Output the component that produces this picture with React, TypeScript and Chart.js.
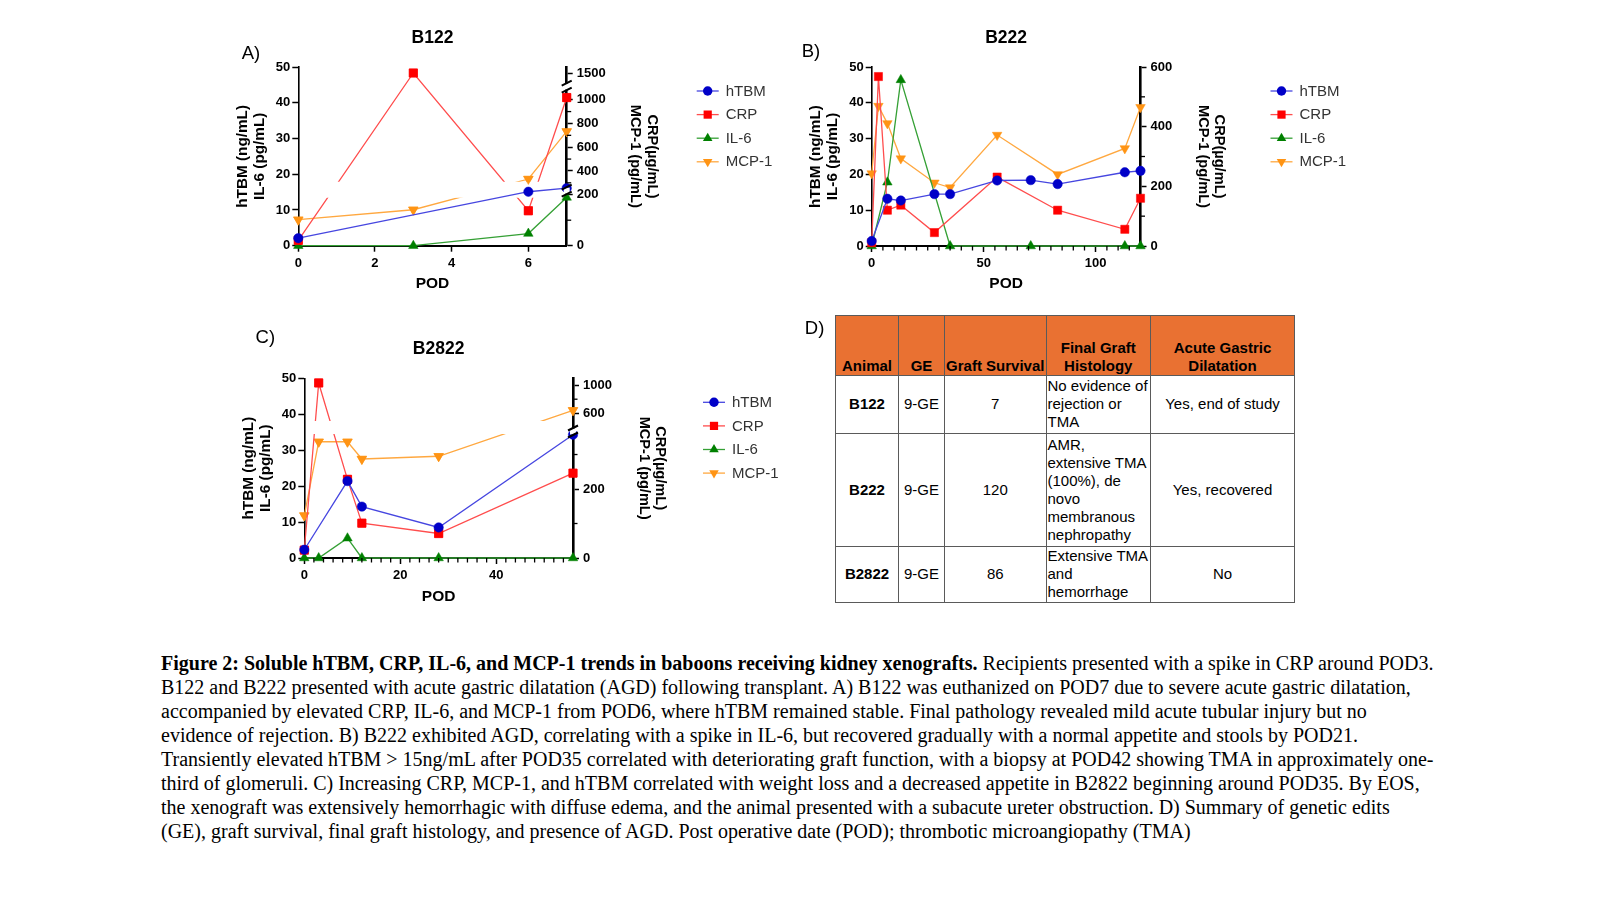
import React, { useEffect, useRef } from 'react';
import { Chart, registerables, LinearScale } from 'chart.js';

Chart.register(...registerables);

// ---------------- data ----------------
const SERIES = ['hTBM', 'CRP', 'IL-6', 'MCP-1'];

// B122
const A_HTBM_POD = [0, 6, 7];
const A_HTBM = [2.1, 15.1, 16.1];
const A_CRP_POD = [0, 3, 6, 7];
const A_CRP = [21, 1500, 137, 1040];
const A_IL6_POD = [0, 3, 6, 7];
const A_IL6 = [0, 0, 3.4, 13.5];
const A_MCP1_POD = [0, 3, 6, 7];
const A_MCP1 = [102, 141, 332, 733];

// B222
const B_HTBM_POD = [0, 7, 13, 28, 35, 56, 71, 83, 113, 120];
const B_HTBM = [1.4, 13.2, 12.7, 14.5, 14.5, 18.3, 18.4, 17.3, 20.6, 21.0];
const B_CRP_POD = [0, 3, 7, 13, 28, 56, 83, 113, 120];
const B_CRP = [11, 568, 120, 137, 45, 231, 120, 56, 160];
const B_IL6_POD = [0, 7, 13, 35, 71, 113, 120];
const B_IL6 = [0, 17.8, 46.4, 0, 0, 0, 0];
const B_MCP1_POD = [0, 3, 7, 13, 28, 35, 56, 83, 113, 120];
const B_MCP1 = [243, 469, 411, 293, 212, 196, 372, 240, 327, 465];

// B2822
const C_HTBM_POD = [0, 9, 12, 28, 56];
const C_HTBM = [2.3, 21.4, 14.3, 8.5, 34.3];
const C_CRP_POD = [0, 3, 9, 12, 28, 56];
const C_CRP = [23, 1029, 228, 101, 71, 246];
const C_IL6_POD = [0, 3, 9, 12, 28, 56];
const C_IL6 = [0, 0, 5.5, 0, 0, 0];
const C_MCP1_POD = [0, 3, 9, 12, 28, 56];
const C_MCP1 = [123, 337, 337, 287, 295, 643];

// axis ticks
const LEFT_MAX = 50;
const LEFT_STEP = 10;
const A_X_TICKS = [0, 2, 4, 6];
const A_X_MAJOR = [0, 2, 4, 6];
const A_X_MAX = 7;
const B_X_TICKS = [0, 5, 10, 15, 20, 25, 30, 35, 40, 45, 50, 55, 60, 65, 70, 75, 80, 85, 90, 95, 100, 105, 110, 115];
const B_X_MAJOR = [0, 50, 100];
const B_X_MAX = 120;
const C_X_TICKS = [0, 2, 4, 6, 8, 10, 12, 14, 16, 18, 20, 22, 24, 26, 28, 30, 32, 34, 36, 38, 40, 42, 44, 46, 48, 50, 52, 54];
const C_X_MAJOR = [0, 20, 40];
const C_X_MAX = 56;

const A_R_TICKS = [0, 100, 200, 300, 400, 500, 600, 700, 800, 900, 1000, 1500];
const A_R_MAJOR = [0, 200, 400, 600, 800, 1000, 1500];
const A_R_SEG_VALUES = [0, 200, 1000, 1500, 1612];
const B_R_TICKS = [0, 100, 200, 300, 400, 500, 600];
const B_R_MAJOR = [0, 200, 400, 600];
const B_R_SEG_VALUES = [0, 600];
const C_R_TICKS = [0, 100, 200, 300, 600, 800, 1000];
const C_R_MAJOR = [0, 200, 600, 1000];
const C_R_SEG_VALUES = [0, 360, 400, 1095];

// table
const TABLE_HEAD = [['Animal'], ['GE'], ['Graft Survival'], ['Final Graft', 'Histology'], ['Acute Gastric', 'Dilatation']];
const TABLE_ANIMAL = ['B122', 'B222', 'B2822'];
const TABLE_GE = ['9-GE', '9-GE', '9-GE'];
const TABLE_SURVIVAL = ['7', '120', '86'];
const TABLE_HISTO = [
  ['No evidence of', 'rejection or', 'TMA'],
  ['AMR,', 'extensive TMA', '(100%), de', 'novo', 'membranous', 'nephropathy'],
  ['Extensive TMA', 'and', 'hemorrhage'],
];
const TABLE_AGD = ['Yes, end of study', 'Yes, recovered', 'No'];

// caption
const CAPTION_BOLD = 'Figure 2: Soluble hTBM, CRP, IL-6, and MCP-1 trends in baboons receiving kidney xenografts.';
const CAPTION_LINES = [
  ' Recipients presented with a spike in CRP around POD3.',
  'B122 and B222 presented with acute gastric dilatation (AGD) following transplant. A) B122 was euthanized on POD7 due to severe acute gastric dilatation,',
  'accompanied by elevated CRP, IL-6, and MCP-1 from POD6, where hTBM remained stable. Final pathology revealed mild acute tubular injury but no',
  'evidence of rejection. B) B222 exhibited AGD, correlating with a spike in IL-6, but recovered gradually with a normal appetite and stools by POD21.',
  'Transiently elevated hTBM > 15ng/mL after POD35 correlated with deteriorating graft function, with a biopsy at POD42 showing TMA in approximately one-',
  'third of glomeruli. C) Increasing CRP, MCP-1, and hTBM correlated with weight loss and a decreased appetite in B2822 beginning around POD35. By EOS,',
  'the xenograft was extensively hemorrhagic with diffuse edema, and the animal presented with a subacute ureter obstruction. D) Summary of genetic edits',
  '(GE), graft survival, final graft histology, and presence of AGD. Post operative date (POD); thrombotic microangiopathy (TMA)',
];

// ---------------- styling ----------------
const SANS = "'Liberation Sans', Arial, Helvetica, sans-serif";
const SERIF = "'Liberation Serif', 'Times New Roman', Times, serif";
Chart.defaults.font.family = SANS;
Chart.defaults.color = '#000';

const LINE_COLORS = ['#4646e0', '#ff4d4d', '#35a035', '#ffa840'];
const MARK_COLORS = ['#0000c8', '#ff0000', '#008000', '#ff9414'];
const POINT_STYLES = ['circle', 'rect', 'triangle', 'triangle'];
const POINT_ROT = [0, 0, 0, 180];
const POINT_R = [4.7, 5.8, 5.5, 5.5];

// ---------------- broken (segmented) axis ----------------
class BrokenScale extends (LinearScale as any) {
  static id = 'broken';
  static defaults = {};
  _toFrac(v: number) {
    const vs: number[] = this.options.segValues;
    const fs: number[] = this.options.segFracs;
    let i = 1;
    while (i < vs.length - 1 && v > vs[i]) i++;
    return fs[i - 1] + ((v - vs[i - 1]) * (fs[i] - fs[i - 1])) / (vs[i] - vs[i - 1]);
  }
  getPixelForValue(v: number) {
    return this.getPixelForDecimal(this._toFrac(v));
  }
  getValueForPixel(px: number) {
    const f = this.getDecimalForPixel(px);
    const vs: number[] = this.options.segValues;
    const fs: number[] = this.options.segFracs;
    let i = 1;
    while (i < fs.length - 1 && f > fs[i]) i++;
    return vs[i - 1] + ((f - fs[i - 1]) * (vs[i] - vs[i - 1])) / (fs[i] - fs[i - 1]);
  }
  buildTicks() {
    this.start = this.min;
    this.end = this.max;
    return (this.options.tickValues as number[]).map((v) => ({ value: v }));
  }
}
Chart.register(BrokenScale as any);

type Series = { pod: number[]; val: number[] };
type PanelCfg = {
  title: string;
  cl: number; ct: number; cw: number; ch: number;
  area: { left: number; top: number; right: number; bottom: number };
  rightEdge: number;
  xMax: number; xTicks: number[]; xMajor: number[];
  rTicks: number[]; rMajor: number[]; segValues: number[]; segFracs: number[];
  gapBands: number[]; breaks: number[];
  series: Series[];
};

function drawMarker(ctx: CanvasRenderingContext2D, i: number, x: number, y: number) {
  const r = POINT_R[i];
  ctx.fillStyle = MARK_COLORS[i];
  ctx.beginPath();
  const st = POINT_STYLES[i];
  if (st === 'circle') {
    ctx.arc(x, y, r, 0, Math.PI * 2);
  } else if (st === 'rect') {
    const s = r * Math.SQRT1_2;
    ctx.rect(x - s, y - s, 2 * s, 2 * s);
  } else {
    let rad = (POINT_ROT[i] * Math.PI) / 180;
    ctx.moveTo(x + Math.sin(rad) * r, y - Math.cos(rad) * r);
    rad += (2 * Math.PI) / 3;
    ctx.lineTo(x + Math.sin(rad) * r, y - Math.cos(rad) * r);
    rad += (2 * Math.PI) / 3;
    ctx.lineTo(x + Math.sin(rad) * r, y - Math.cos(rad) * r);
    ctx.closePath();
  }
  ctx.fill();
}

function decorPlugin(p: PanelCfg) {
  return {
    id: 'decor',
    beforeDatasetDraw(chart: any, args: any) {
      const meta = args.meta;
      if (meta.yAxisID !== 'y1' || !p.gapBands.length) return;
      const s = chart.scales.y1;
      const ctx = chart.ctx;
      ctx.save();
      ctx.beginPath();
      const edges = [0, ...p.gapBands, 1];
      for (let k = 0; k < edges.length; k += 2) {
        const yb = k === 0 ? chart.height : s.getPixelForDecimal(edges[k]);
        const yt = k + 1 === edges.length - 1 ? 0 : s.getPixelForDecimal(edges[k + 1]);
        ctx.rect(0, yt, chart.width, yb - yt);
      }
      ctx.clip();
    },
    afterDatasetDraw(chart: any, args: any) {
      const meta = args.meta;
      if (meta.yAxisID !== 'y1' || !p.gapBands.length) return;
      chart.ctx.restore();
      meta.data.forEach((pt: any) => pt.draw(chart.ctx));
    },
    afterDraw(chart: any) {
      const ctx: CanvasRenderingContext2D = chart.ctx;
      const a = chart.chartArea;
      ctx.save();
      // title
      ctx.fillStyle = '#000';
      ctx.font = `bold 17.5px ${SANS}`;
      ctx.textAlign = 'center';
      ctx.textBaseline = 'middle';
      ctx.fillText(p.title, (a.left + a.right) / 2, a.top - 29);
      // minor ticks
      ctx.strokeStyle = '#000';
      ctx.lineWidth = 1.3;
      const xs = chart.scales.x;
      xs.ticks.forEach((t: any) => {
        if (t.label !== '') return;
        const px = xs.getPixelForValue(t.value);
        ctx.beginPath();
        ctx.moveTo(px, xs.top);
        ctx.lineTo(px, xs.top + 4.5);
        ctx.stroke();
      });
      const rs = chart.scales.y1;
      rs.ticks.forEach((t: any) => {
        if (t.label !== '') return;
        const py = rs.getPixelForValue(t.value);
        ctx.beginPath();
        ctx.moveTo(rs.left, py);
        ctx.lineTo(rs.left + 4.5, py);
        ctx.stroke();
      });
      // axis breaks
      p.breaks.forEach((f) => {
        const y = rs.getPixelForDecimal(f);
        const x = rs.left;
        ctx.fillStyle = '#fff';
        ctx.fillRect(x - 3, y - 3, 6, 6);
        ctx.strokeStyle = '#000';
        ctx.lineWidth = 2;
        ctx.beginPath();
        ctx.moveTo(x - 5, y + 6);
        ctx.lineTo(x + 5, y + 1);
        ctx.moveTo(x - 5, y - 1);
        ctx.lineTo(x + 5, y - 6);
        ctx.stroke();
      });
      // legend
      ctx.font = `15px ${SANS}`;
      ctx.textAlign = 'left';
      ctx.textBaseline = 'middle';
      SERIES.forEach((name, i) => {
        const cx = a.right + 141;
        const cy = a.top + 24 + i * 23.6;
        ctx.strokeStyle = LINE_COLORS[i];
        ctx.lineWidth = 1.3;
        ctx.beginPath();
        ctx.moveTo(cx - 11, cy);
        ctx.lineTo(cx + 11, cy);
        ctx.stroke();
        drawMarker(ctx, i, cx, cy);
        ctx.fillStyle = '#333';
        ctx.fillText(name, cx + 18, cy + 0.5);
      });
      ctx.restore();
    },
  };
}

function buildConfig(p: PanelCfg): any {
  const leftW = p.area.left - p.cl;
  const rightW = p.rightEdge - p.area.right;
  const xH = p.ct + p.ch - p.area.bottom;
  const padTop = p.area.top - p.ct;
  const padRight = p.cl + p.cw - p.rightEdge;
  const tickColor = (c: any) => (c.tick && c.tick.label === '' ? 'rgba(0,0,0,0)' : '#000');
  const tickFont = { size: 13, weight: 'bold' as const };
  const datasets = p.series.map((s, i) => ({
    label: SERIES[i],
    data: s.pod.map((x, j) => ({ x, y: s.val[j] })),
    yAxisID: i === 0 || i === 2 ? 'y' : 'y1',
    borderColor: LINE_COLORS[i],
    borderWidth: 1.3,
    backgroundColor: MARK_COLORS[i],
    pointBackgroundColor: MARK_COLORS[i],
    pointBorderColor: MARK_COLORS[i],
    pointBorderWidth: 0.5,
    pointStyle: POINT_STYLES[i],
    pointRotation: POINT_ROT[i],
    pointRadius: POINT_R[i],
    pointHoverRadius: POINT_R[i],
    tension: 0,
    fill: false,
    clip: false,
  }));
  return {
    type: 'line',
    data: { datasets },
    options: {
      animation: false,
      responsive: false,
      maintainAspectRatio: false,
      events: [],
      layout: { padding: { left: 0, top: padTop, right: padRight, bottom: 0 } },
      plugins: { legend: { display: false }, title: { display: false }, tooltip: { enabled: false } },
      scales: {
        x: {
          type: 'linear',
          min: 0,
          max: p.xMax,
          afterBuildTicks: (s: any) => {
            s.ticks = p.xTicks.map((v) => ({ value: v }));
          },
          afterFit: (s: any) => {
            s.height = xH;
          },
          ticks: {
            autoSkip: false,
            maxRotation: 0,
            padding: 4,
            font: tickFont,
            color: '#000',
            callback: (v: number) => (p.xMajor.includes(v) ? String(v) : ''),
          },
          grid: { drawOnChartArea: false, drawTicks: true, tickLength: 6, tickWidth: 1.5, tickColor },
          border: { display: true, color: '#000', width: 2 },
          title: { display: true, text: 'POD', font: { size: 15.5, weight: 'bold', lineHeight: 1.1 }, color: '#000', padding: { top: 0, bottom: 4 } },
        },
        y: {
          type: 'linear',
          position: 'left',
          min: 0,
          max: LEFT_MAX,
          afterFit: (s: any) => {
            s.width = leftW;
          },
          ticks: { stepSize: LEFT_STEP, padding: 2, font: tickFont, color: '#000' },
          grid: { drawOnChartArea: false, drawTicks: true, tickLength: 6, tickWidth: 1.5, tickColor: '#000' },
          border: { display: true, color: '#000', width: 1.6 },
          title: {
            display: true,
            text: ['hTBM (ng/mL)', 'IL-6 (pg/mL)'],
            font: { size: 15.3, weight: 'bold', lineHeight: 1.06 },
            color: '#000',
            padding: 0,
          },
        },
        y1: {
          type: 'broken',
          position: 'right',
          min: 0,
          max: p.segValues[p.segValues.length - 1],
          segValues: p.segValues,
          segFracs: p.segFracs,
          tickValues: p.rTicks,
          afterFit: (s: any) => {
            s.width = rightW;
          },
          ticks: {
            autoSkip: false,
            padding: 4,
            font: tickFont,
            color: '#000',
            callback: (v: number) => (p.rMajor.includes(v) ? String(v) : ''),
          },
          grid: { drawOnChartArea: false, drawTicks: true, tickLength: 6, tickWidth: 1.5, tickColor },
          border: { display: true, color: '#000', width: 2.6 },
          title: {
            display: true,
            text: ['CRP(µg/mL)', 'MCP-1 (pg/mL)'],
            font: { size: 14.6, weight: 'bold', lineHeight: 1.12 },
            color: '#000',
            padding: 0,
          },
        },
      },
    },
    plugins: [decorPlugin(p)],
  };
}

const PANEL_A: PanelCfg = {
  title: 'B122',
  cl: 235, ct: 10, cw: 555, ch: 286,
  area: { left: 298.3, top: 67, right: 566.7, bottom: 245.7 },
  rightEdge: 660,
  xMax: A_X_MAX, xTicks: A_X_TICKS, xMajor: A_X_MAJOR,
  rTicks: A_R_TICKS, rMajor: A_R_MAJOR,
  segValues: A_R_SEG_VALUES, segFracs: [0, 0.2854, 0.817, 0.9664, 1],
  gapBands: [0.269, 0.358], breaks: [0.308, 0.89],
  series: [
    { pod: A_HTBM_POD, val: A_HTBM },
    { pod: A_CRP_POD, val: A_CRP },
    { pod: A_IL6_POD, val: A_IL6 },
    { pod: A_MCP1_POD, val: A_MCP1 },
  ],
};

const PANEL_B: PanelCfg = {
  title: 'B222',
  cl: 808, ct: 10, cw: 562, ch: 286,
  area: { left: 871.7, top: 67, right: 1140.5, bottom: 246 },
  rightEdge: 1227.4,
  xMax: B_X_MAX, xTicks: B_X_TICKS, xMajor: B_X_MAJOR,
  rTicks: B_R_TICKS, rMajor: B_R_MAJOR,
  segValues: B_R_SEG_VALUES, segFracs: [0, 1],
  gapBands: [], breaks: [],
  series: [
    { pod: B_HTBM_POD, val: B_HTBM },
    { pod: B_CRP_POD, val: B_CRP },
    { pod: B_IL6_POD, val: B_IL6 },
    { pod: B_MCP1_POD, val: B_MCP1 },
  ],
};

const PANEL_C: PanelCfg = {
  title: 'B2822',
  cl: 241, ct: 320, cw: 549, ch: 289,
  area: { left: 304.3, top: 378.3, right: 573, bottom: 558 },
  rightEdge: 668.2,
  xMax: C_X_MAX, xTicks: C_X_TICKS, xMajor: C_X_MAJOR,
  rTicks: C_R_TICKS, rMajor: C_R_MAJOR,
  segValues: C_R_SEG_VALUES, segFracs: [0, 0.691, 0.726, 1],
  gapBands: [0.69, 0.762], breaks: [0.704],
  series: [
    { pod: C_HTBM_POD, val: C_HTBM },
    { pod: C_CRP_POD, val: C_CRP },
    { pod: C_IL6_POD, val: C_IL6 },
    { pod: C_MCP1_POD, val: C_MCP1 },
  ],
};

function Panel({ p }: { p: PanelCfg }) {
  const ref = useRef<HTMLCanvasElement>(null);
  useEffect(() => {
    const chart = new Chart(ref.current as HTMLCanvasElement, buildConfig(p));
    return () => chart.destroy();
  }, [p]);
  return (
    <canvas
      ref={ref}
      width={p.cw}
      height={p.ch}
      style={{ position: 'absolute', left: p.cl, top: p.ct, width: p.cw, height: p.ch }}
    />
  );
}

function Label({ text, x, y }: { text: string; x: number; y: number }) {
  return (
    <div
      style={{
        position: 'absolute', left: x, top: y, transform: 'translate(-50%, -50%)',
        fontFamily: SANS, fontSize: 18.5, lineHeight: '20px', color: '#000', whiteSpace: 'nowrap',
      }}
    >
      {text}
    </div>
  );
}

const COL_W = [63, 46, 101.5, 104.5, 144];
const ROW_H = [57.5, 113, 56.5];

function SummaryTable() {
  const border = '1px solid #5a5a5a';
  const cell: React.CSSProperties = { border, padding: '0 1px', fontSize: 15, lineHeight: '18px', verticalAlign: 'middle', textAlign: 'center', overflow: 'hidden' };
  return (
    <table
      style={{
        position: 'absolute', left: 835, top: 315, width: 459, borderCollapse: 'collapse', tableLayout: 'fixed',
        fontFamily: SANS, color: '#000', border: '1.5px solid #444',
      }}
    >
      <colgroup>
        {COL_W.map((w, i) => (
          <col key={i} style={{ width: w }} />
        ))}
      </colgroup>
      <thead>
        <tr style={{ height: 60 }}>
          {TABLE_HEAD.map((h, i) => (
            <th key={i} style={{ ...cell, background: '#E97132', fontWeight: 'bold', verticalAlign: 'bottom', whiteSpace: 'nowrap', paddingBottom: 0 }}>
              {h.map((l, j) => (
                <div key={j}>{l}</div>
              ))}
            </th>
          ))}
        </tr>
      </thead>
      <tbody>
        {TABLE_ANIMAL.map((an, r) => (
          <tr key={r} style={{ height: ROW_H[r] }}>
            <td style={{ ...cell, fontWeight: 'bold' }}>{an}</td>
            <td style={cell}>{TABLE_GE[r]}</td>
            <td style={cell}>{TABLE_SURVIVAL[r]}</td>
            <td style={{ ...cell, textAlign: 'left', whiteSpace: 'nowrap' }}>
              {TABLE_HISTO[r].map((l, j) => (
                <div key={j}>{l}</div>
              ))}
            </td>
            <td style={{ ...cell, whiteSpace: 'nowrap' }}>{TABLE_AGD[r]}</td>
          </tr>
        ))}
      </tbody>
    </table>
  );
}

function Caption() {
  return (
    <div
      style={{
        position: 'absolute', left: 161, top: 652.4, fontFamily: SERIF, fontSize: 20, lineHeight: '23.9px',
        color: '#000', whiteSpace: 'nowrap',
      }}
    >
      {CAPTION_LINES.map((l, i) => (
        <div key={i}>
          {i === 0 ? <b>{CAPTION_BOLD}</b> : null}
          {l}
        </div>
      ))}
    </div>
  );
}

export default function App() {
  return (
    <div style={{ position: 'absolute', left: 0, top: 0, width: 1600, height: 900, background: '#fff', overflow: 'hidden' }}>
      <Panel p={PANEL_A} />
      <Panel p={PANEL_B} />
      <Panel p={PANEL_C} />
      <Label text="A)" x={251} y={53} />
      <Label text="B)" x={811} y={51} />
      <Label text="C)" x={265.3} y={336.7} />
      <Label text="D)" x={814.6} y={328.3} />
      <SummaryTable />
      <Caption />
    </div>
  );
}
